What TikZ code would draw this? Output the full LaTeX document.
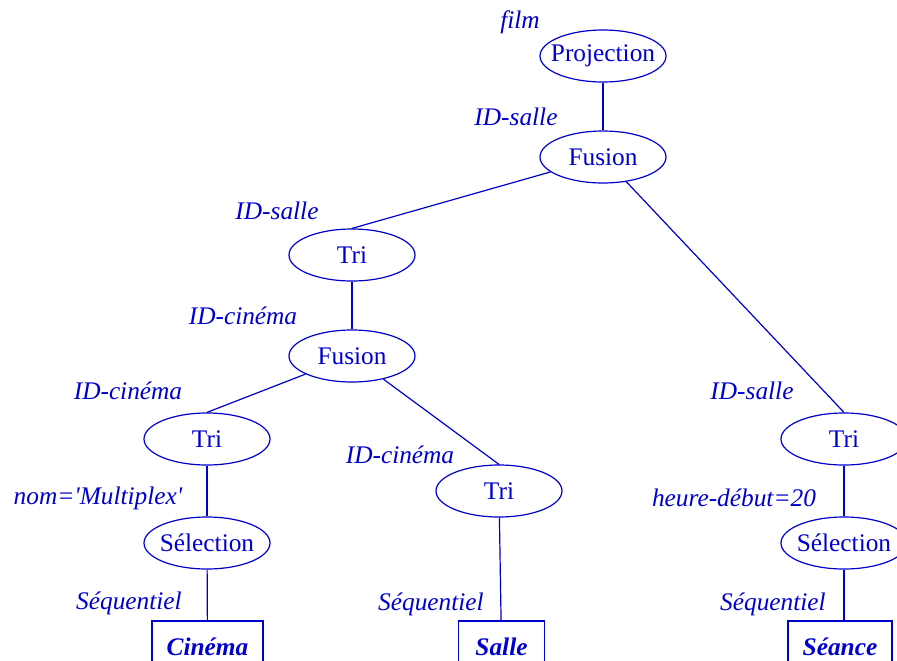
\documentclass[tikz,border=0pt]{standalone}
\usepackage{fontspec}
\setmainfont{Liberation Serif}
\usepackage{tikz}
\usetikzlibrary{shapes.geometric}
\definecolor{opblue}{RGB}{0,0,205}

\begin{document}
\begin{tikzpicture}[x=0.75pt,y=0.75pt,yscale=-1,xscale=1,
  op/.style={ellipse,draw=opblue,line width=0.9pt,text=opblue,inner xsep=-6pt,inner ysep=0pt,
    minimum width=94.5pt,minimum height=39pt,font=\fontsize{19}{22}\selectfont},
  rel/.style={rectangle,draw=opblue,line width=0.9pt,text=opblue,inner xsep=11pt,
    minimum height=39pt,font=\fontsize{19}{22}\selectfont\bfseries\itshape},
  arg/.style={text=opblue,inner sep=0pt,font=\fontsize{19}{22}\selectfont\itshape},
  arc/.style={draw=opblue,line width=0.9pt}]
\useasboundingbox (0,0) rectangle (897,661);
\clip (0,0) rectangle (897,661);

%Operators
\node[op] (proj) at (603,56) {Projection};
\node[op] (fus1) at (603,157) {Fusion};
\node[op] (tri1) at (352,255) {Tri};
\node[op] (fus2) at (352,356) {Fusion};
\node[op] (tri2) at (207,439) {Tri};
\node[op] (sel1) at (207,543) {Sélection};
\node[op] (tri3) at (499,491) {Tri};
\node[op] (tri4) at (844,439) {Tri};
\node[op] (sel2) at (844,543) {Sélection};

%Relations
\node[rel] (cine) at (207.5,647) {Cinéma};
\node[rel,inner xsep=12.5pt] (salle) at (501.5,647) {Salle};
\node[rel] (seance) at (840,647) {Séance};

%Arguments
\node[arg] (a1) at (520,22) {film};
\node[arg] (a2) at (516,117) {ID-salle};
\node[arg] (a3) at (277,211) {ID-salle};
\node[arg] (a4) at (243,316) {ID-cinéma};
\node[arg] (a5) at (128,391) {ID-cinéma};
\node[arg] (a6) at (400,455) {ID-cinéma};
\node[arg] (a7) at (752,391) {ID-salle};
\node[arg] (a8) at (98,498) {nom=\textquotesingle Multiplex\textquotesingle};
\node[arg] (a9) at (734,498) {heure-début=20};
\node[arg] (a10) at (129,603) {Séquentiel};
\node[arg] (a11) at (431,604) {Séquentiel};
\node[arg] (a12) at (773,604) {Séquentiel};

%Straight Lines
\draw[arc] (proj) -- (fus1);
\draw[arc] (fus1) -- (tri1.north);
\draw[arc] (fus1) -- (tri4.north);
\draw[arc] (tri1) -- (fus2);
\draw[arc] (fus2) -- (tri2.north);
\draw[arc] (fus2) -- (tri3.north);
\draw[arc] (tri2) -- (sel1);
\draw[arc] (sel1) -- (cine);
\draw[arc] (tri3) -- (salle);
\draw[arc] (tri4) -- (sel2);
\draw[arc] (sel2.south) -- (sel2.south |- seance.north);
\end{tikzpicture}
\end{document}
